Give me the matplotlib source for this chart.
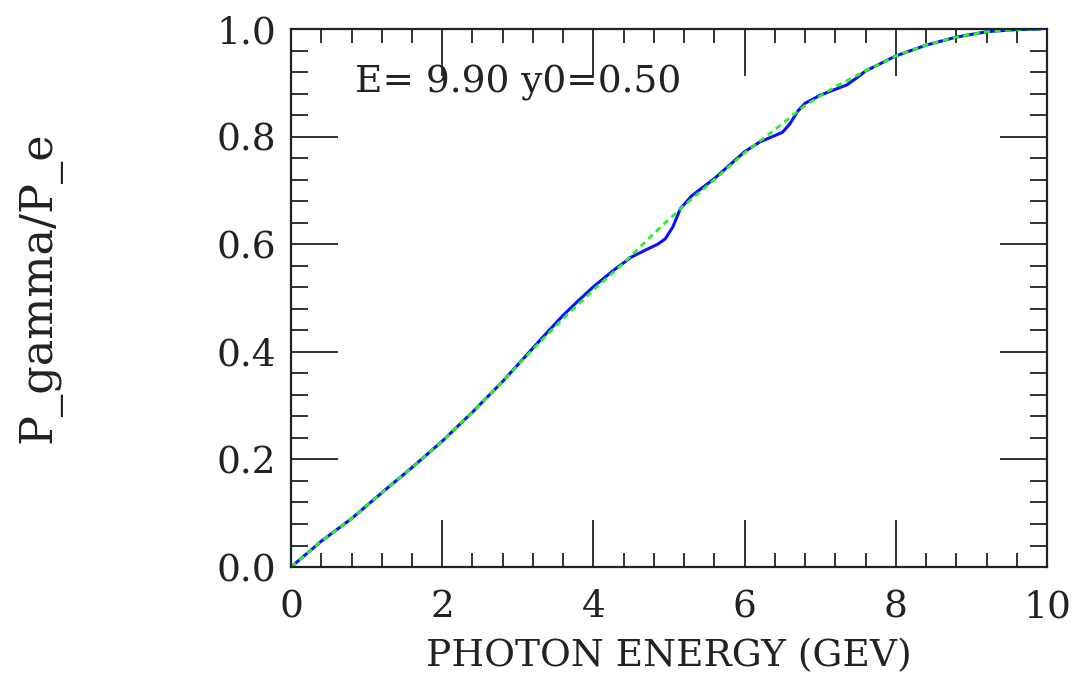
import matplotlib
matplotlib.use("Agg")
import matplotlib.pyplot as plt
from matplotlib.ticker import MultipleLocator

# Smooth reference curve (green dashed)
x_fit = [0.0, 0.4, 0.8, 1.2, 1.6, 2.0, 2.4, 2.8, 3.2, 3.6, 4.0, 4.4, 4.8,
         5.2, 5.6, 6.0, 6.4, 6.8, 7.2, 7.6, 8.0, 8.4, 8.8, 9.2, 9.6, 9.9]
y_fit = [0.0, 0.048, 0.090, 0.138, 0.185, 0.234, 0.288, 0.345, 0.405, 0.462,
         0.515, 0.565, 0.620, 0.672, 0.720, 0.770, 0.813, 0.858, 0.893, 0.922,
         0.950, 0.970, 0.985, 0.995, 0.999, 1.0]

# Computed curve (blue solid) with wiggles
x_calc = [0.0, 0.4, 0.8, 1.2, 1.6, 2.0, 2.4, 2.8, 3.2, 3.4, 3.6, 3.8, 4.0,
          4.27, 4.5, 4.7, 4.85, 4.95, 5.05, 5.15, 5.3, 5.6, 6.0, 6.2, 6.4,
          6.5, 6.6, 6.7, 6.8, 7.0, 7.2, 7.35, 7.5, 7.6, 8.0, 8.4, 8.8, 9.2,
          9.6, 9.9]
y_calc = [0.0, 0.048, 0.090, 0.138, 0.185, 0.234, 0.288, 0.345, 0.407, 0.438,
          0.468, 0.495, 0.521, 0.552, 0.576, 0.590, 0.600, 0.610, 0.632, 0.666,
          0.690, 0.722, 0.772, 0.790, 0.802, 0.808, 0.824, 0.847, 0.862, 0.877,
          0.888, 0.896, 0.911, 0.922, 0.950, 0.970, 0.985, 0.995, 0.999, 1.0]

label_text = "E= 9.90 y0=0.50"

plt.rcParams['font.family'] = ['DejaVu Serif']
fs = 27

fig = plt.figure(figsize=(10.72, 6.83), dpi=100)
ax = fig.add_axes([0.2715, 0.1698, 0.7052, 0.7877])

ax.plot(x_calc, y_calc, color=(0.05, 0.05, 1.0), lw=2.2, solid_joinstyle='round')
ax.plot(x_fit, y_fit, color=(0.15, 0.95, 0.15), lw=2.0, ls=(0, (2.2, 1.6)))

ax.set_xlim(0, 10)
ax.set_ylim(0, 1.0)
ax.xaxis.set_major_locator(MultipleLocator(2))
ax.xaxis.set_minor_locator(MultipleLocator(0.4))
ax.yaxis.set_major_locator(MultipleLocator(0.2))
ax.yaxis.set_minor_locator(MultipleLocator(0.04))
ax.xaxis.set_major_formatter(plt.FuncFormatter(lambda v, p: f"{v:.0f}"))
ax.yaxis.set_major_formatter(plt.FuncFormatter(lambda v, p: f"{v:.1f}"))

ax.tick_params(which='both', direction='in', top=True, right=True, color='#222222', width=1.3)
ax.tick_params(which='major', length=34)
ax.tick_params(axis='x', which='minor', length=10)
ax.tick_params(axis='y', which='minor', length=12)
ax.tick_params(axis='x', which='major', pad=16, labelsize=fs, labelcolor='#222222')
ax.tick_params(axis='y', which='major', pad=11, labelsize=fs, labelcolor='#222222')
for s in ax.spines.values():
    s.set_linewidth(1.6)
    s.set_color('#222222')

ax.set_xlabel("PHOTON ENERGY (GEV)", fontsize=fs, color='#222222', labelpad=9)
fig.text(0.037, 0.58, "P_gamma/P_e", rotation=90, fontsize=32, color='#222222',
         ha='center', va='center')
ax.text(0.84, 0.90, label_text, fontsize=fs, color='#222222', ha='left', va='center')

fig.savefig("out.png", dpi=100)
